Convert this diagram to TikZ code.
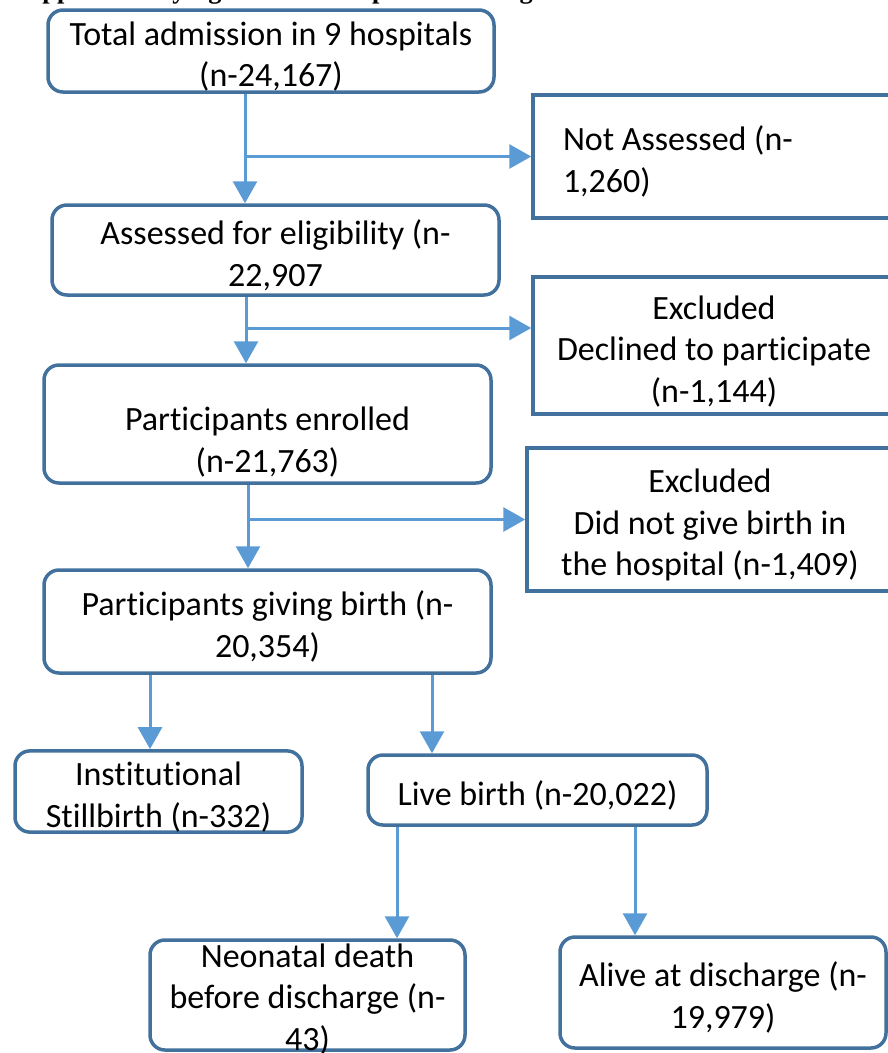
\documentclass[tikz,border=0pt]{standalone}
\usepackage{fontspec}
\setmainfont{Carlito}[Ligatures={NoCommon}]
\newfontfamily\capfont{Liberation Serif}
\usetikzlibrary{arrows.meta}
\definecolor{boxblue}{RGB}{65,113,156}
\definecolor{arrowblue}{RGB}{91,155,213}
\newcommand{\topgap}[1][35pt]{\rule{0pt}{#1}}
\tikzset{x=1pt, y=-1pt, auto,
  box/.style={draw=boxblue, line width=3.5pt, rounded corners=15pt, align=center, inner xsep=4pt, inner ysep=0pt},
  side/.style={draw=boxblue, line width=3.5pt, align=center, inner ysep=0pt},
  arr/.style={draw=arrowblue, line width=3pt, -{Triangle[width=24pt,length=22pt]}}}

\begin{document}
\begin{tikzpicture}[font=\fontsize{34}{41.5}\selectfont]
                \path[use as bounding box, clip] (0,0) rectangle (888,1053);
                \node[anchor=base west, inner sep=0pt, font={\capfont\bfseries\fontsize{26.3}{30}\selectfont}] (cap) at (13,-2) {Supplementary figure 1: Participant flow diagram};
                \node[box, minimum width=446pt, minimum height=82pt]  (Adm)   at (271,51)     {\topgap Total admission in 9 hospitals\\(n-24,167)};
                \node[side, minimum width=362pt, minimum height=123pt, text width=302pt, align=flush left, inner xsep=30pt] (NA) at (714,156.5) {\topgap Not Assessed (n-\\1,260)};
                \node[box, minimum width=447pt, minimum height=90pt]  (Ass)   at (275.5,250)  {\topgap Assessed for eligibility (n-\\22,907};
                \node[side, minimum width=362pt, minimum height=137pt] (Ex1)  at (714,345.5)  {\topgap Excluded\\Declined to participate\\(n-1,144)};
                \node[box, minimum width=447pt, minimum height=118pt] (Enr)   at (267.5,424)  {\topgap[60pt]Participants enrolled\\(n-21,763)};
                \node[side, minimum width=366pt, minimum height=143pt] (Ex2)  at (710,519.5)  {\topgap Excluded\\Did not give birth in\\the hospital (n-1,409)};
                \node[box, minimum width=447pt, minimum height=103pt] (Birth) at (267.5,621.5) {\topgap Participants giving birth (n-\\20,354)};
                \node[box, minimum width=287pt, minimum height=77pt]  (SB)    at (158.5,791.5) {\topgap Institutional\\Stillbirth (n-332)};
                \node[box, minimum width=339pt, minimum height=70pt]  (LB)    at (537.5,790)  {\topgap Live birth (n-20,022)};
                \node[box, minimum width=315pt, minimum height=110pt] (ND)    at (307.5,995)  {\topgap[27pt]Neonatal death\\before discharge (n-\\\smash{43)}};
                \node[box, minimum width=326pt, minimum height=111pt] (AD)    at (723,992.5)  {\topgap Alive at discharge (n-\\19,979)};
                % arrow columns
                \coordinate (x1) at (245,0);
                \coordinate (x2) at (246,0);
                \coordinate (x3) at (248,0);
                \coordinate (x4) at (150,0);
                \coordinate (x5) at (432,0);
                \coordinate (x6) at (397,0);
                \coordinate (x7) at (635,0);
                \coordinate (b2) at ([yshift=17.5pt]Ex1.west);
                \draw[arr] (Adm.south -| x1) -- (Ass.north -| x1);
                \draw[arr] (NA.west -| x1) -- (NA.west);
                \draw[arr] (Ass.south -| x2) -- (Enr.north -| x2);
                \draw[arr] (b2 -| x2) -- (b2);
                \draw[arr] (Enr.south -| x3) -- (Birth.north -| x3);
                \draw[arr] (Ex2.west -| x3) -- (Ex2.west);
                \draw[arr] (Birth.south -| x4) -- (SB.north -| x4);
                \draw[arr] (Birth.south -| x5) -- (LB.north -| x5);
                \draw[arr] (LB.south -| x6) -- (ND.north -| x6);
                \draw[arr] (LB.south -| x7) -- (AD.north -| x7);
              \end{tikzpicture}
\end{document}
